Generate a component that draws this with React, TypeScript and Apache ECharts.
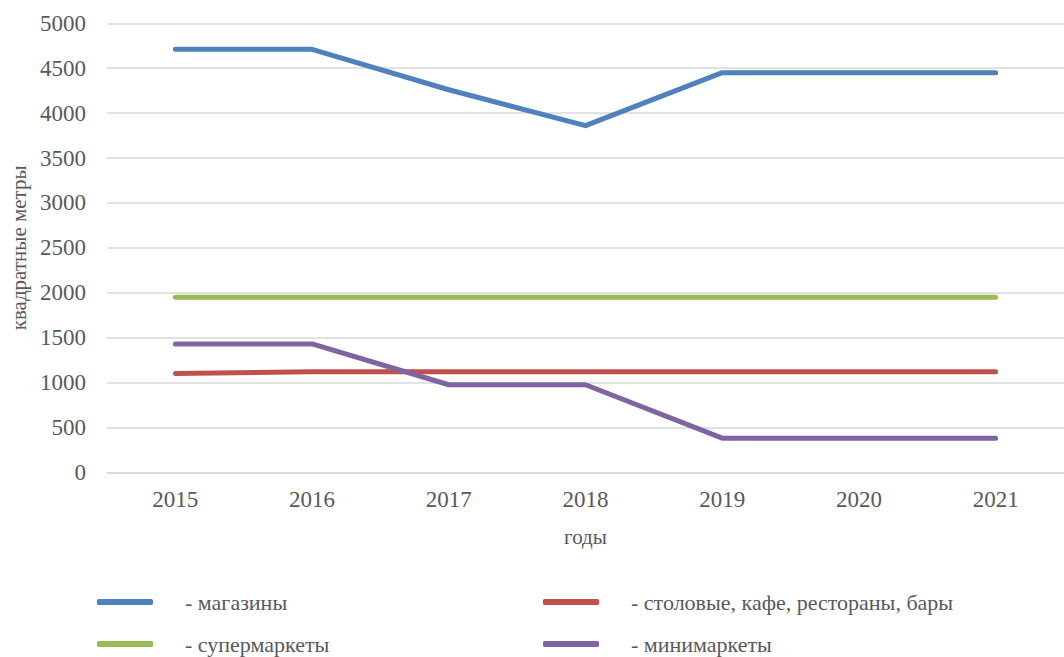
import React, { useEffect, useRef } from "react";
import * as echarts from "echarts";

const years = ["2015", "2016", "2017", "2018", "2019", "2020", "2021"];
const seriesNames = ["магазины", "столовые, кафе, рестораны, бары", "супермаркеты", "минимаркеты"];
const shops = [4710, 4710, 4260, 3860, 4450, 4450, 4450];
const canteens = [1100, 1120, 1120, 1120, 1120, 1120, 1120];
const supermarkets = [1950, 1950, 1950, 1950, 1950, 1950, 1950];
const minimarkets = [1430, 1430, 975, 975, 380, 380, 380];
const colors = ["#4F81BD", "#C0504D", "#9BBB59", "#8064A2"];
const yTitle = "квадратные метры";
const xTitle = "годы";

const FONT = "serif";
const TEXT = "#595959";

export default function App() {
  const ref = useRef<HTMLDivElement>(null);
  useEffect(() => {
    if (!ref.current) return;
    const chart = echarts.init(ref.current, undefined, { renderer: "svg" });
    const values = [shops, canteens, supermarkets, minimarkets];
    const legendPos = [
      { left: 97, top: 591 },
      { left: 543, top: 591 },
      { left: 97, top: 633 },
      { left: 543, top: 633 },
    ];
    chart.setOption({
      animation: false,
      backgroundColor: "#ffffff",
      textStyle: { fontFamily: FONT },
      grid: { left: 106, right: -13, top: 23.3, bottom: 184.7, containLabel: false },
      xAxis: {
        type: "category",
        data: years,
        boundaryGap: true,
        axisLine: { show: true, lineStyle: { color: "#D9D9D9", width: 1.5 } },
        axisTick: { show: false },
        axisLabel: { color: TEXT, fontSize: 23, fontFamily: FONT, margin: 16 },
        name: xTitle,
        nameLocation: "middle",
        nameGap: 54,
        nameTextStyle: { color: TEXT, fontSize: 21, fontFamily: FONT },
        splitLine: { show: false },
      },
      yAxis: {
        type: "value",
        min: 0,
        max: 5000,
        interval: 500,
        axisLine: { show: false },
        axisTick: { show: false },
        axisLabel: {
          color: TEXT,
          fontSize: 23,
          fontFamily: FONT,
          margin: 21,
          formatter: (v: number) => String(v),
        },
        splitLine: { lineStyle: { color: "#D9D9D9", width: 1.5 } },
        name: yTitle,
        nameLocation: "middle",
        nameGap: 78,
        nameRotate: 90,
        nameTextStyle: { color: TEXT, fontSize: 21, fontFamily: FONT },
      },
      legend: seriesNames.map((n, i) => ({
        data: [n],
        left: legendPos[i].left,
        top: legendPos[i].top,
        padding: 0,
        icon: "roundRect",
        itemWidth: 56,
        itemHeight: 6,
        selectedMode: false,
        formatter: (name: string) => "- " + name,
        textStyle: { color: TEXT, fontSize: 22, fontFamily: FONT, padding: [0, 0, 0, 27] },
      })),
      series: seriesNames.map((n, i) => ({
        name: n,
        type: "line",
        data: values[i],
        symbol: "none",
        color: colors[i],
        lineStyle: { color: colors[i], width: 5, cap: "round", join: "round" },
        itemStyle: { color: colors[i] },
        z: 2 + i,
      })),
    });
    return () => chart.dispose();
  }, []);
  return (
    <div
      ref={ref}
      style={{ position: "fixed", left: 0, top: 0, width: 1064, height: 657, background: "#fff" }}
    />
  );
}
